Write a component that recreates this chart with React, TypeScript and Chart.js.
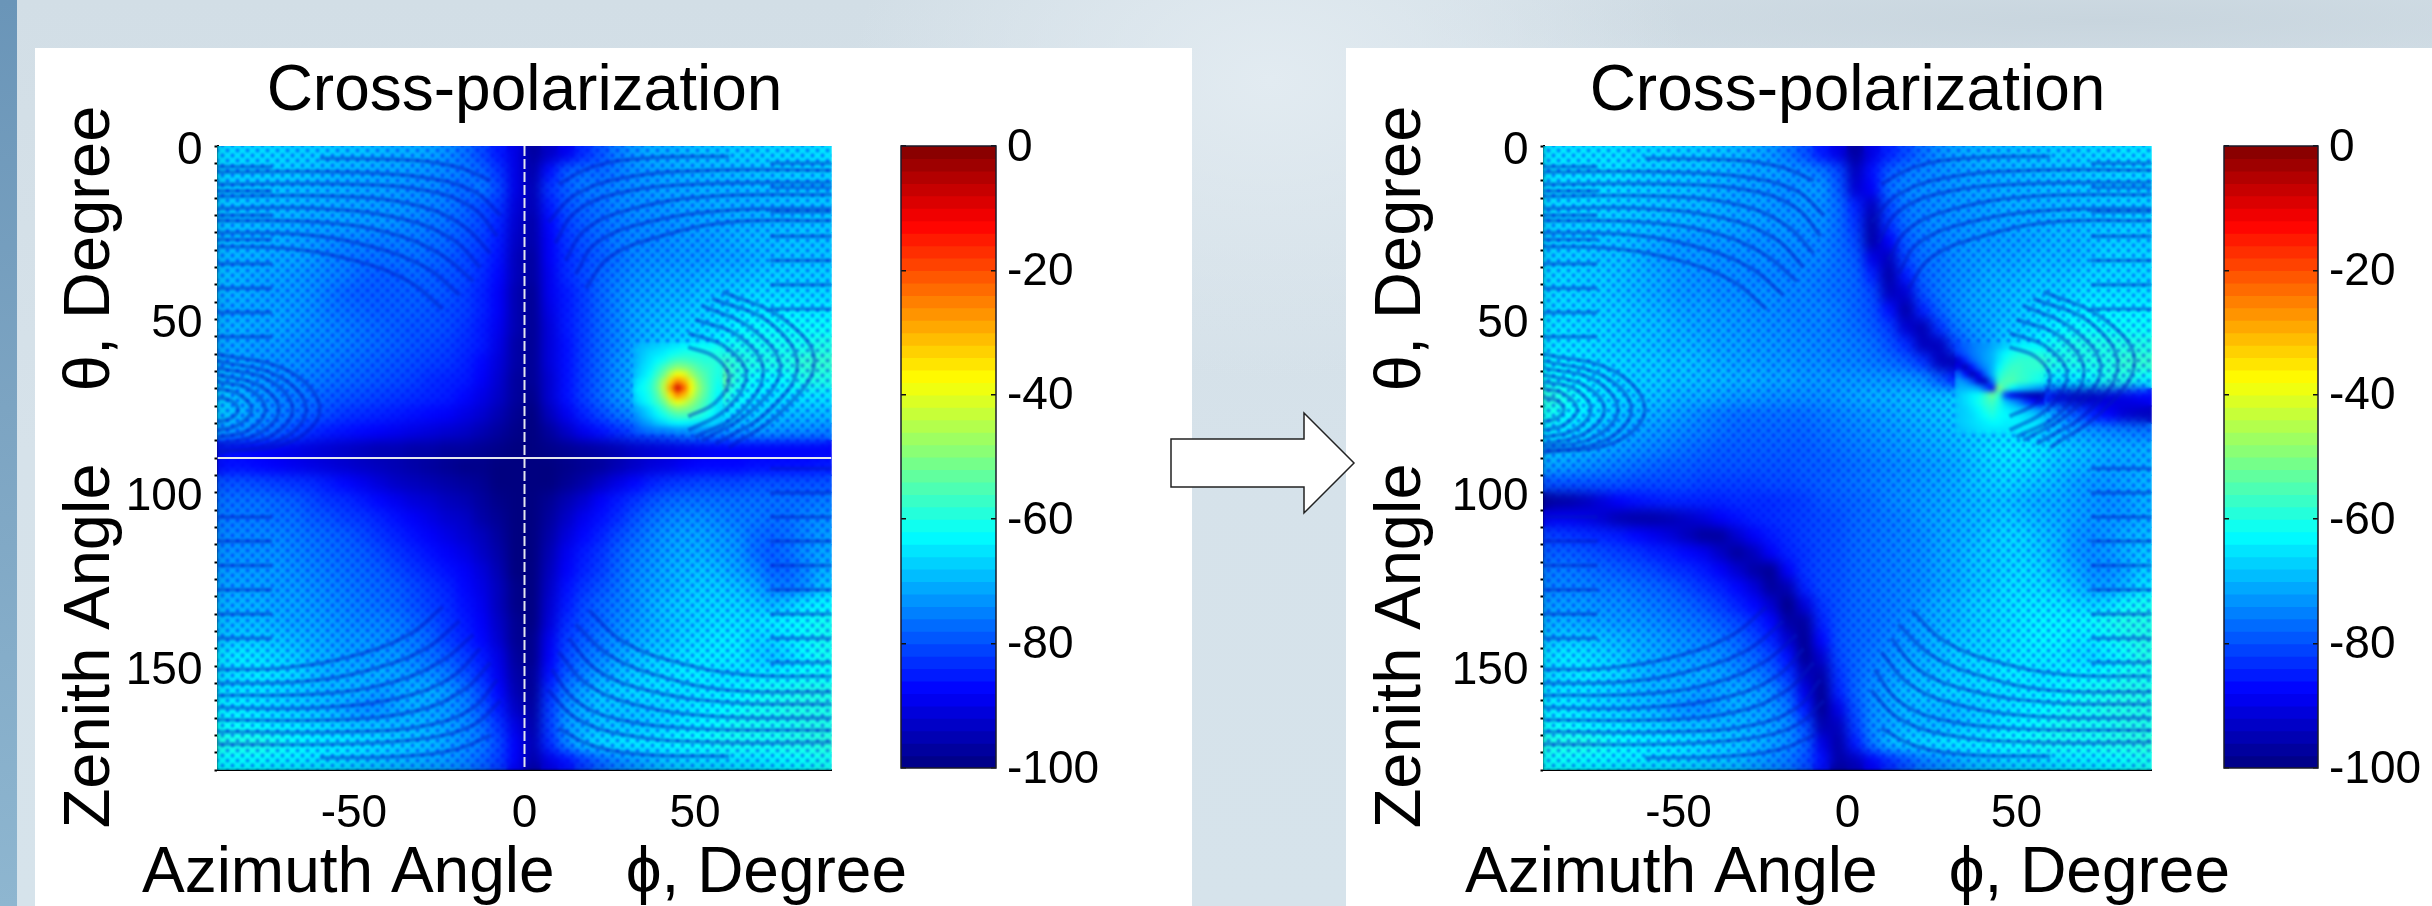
import React, { useEffect, useRef } from "react";
import { Chart, registerables } from "chart.js";

Chart.register(...registerables);

const FONT = "'Liberation Sans', Arial, sans-serif";

const titleText = "Cross-polarization";
const xTitleText = "Azimuth Angle    \u03D5, Degree";
const yTitleText = "Zenith Angle    \u03B8, Degree ";

const xTickValues = [-50, 0, 50];
const yTickValues = [0, 50, 100, 150];
const yMinorValues = [0, 5, 10, 15, 20, 25, 30, 35, 40, 45, 50, 55, 60, 65, 70, 75, 80, 85, 90, 95, 100, 105, 110, 115, 120, 125, 130, 135, 140, 145, 150, 155, 160, 165, 170, 175, 180];
const barTickValues = [-100, -80, -60, -40, -20, 0];

const phiCenters = [-87.5, -82.5, -77.5, -72.5, -67.5, -62.5, -57.5, -52.5, -47.5, -42.5, -37.5, -32.5, -27.5, -22.5, -17.5, -12.5, -7.5, -2.5, 2.5, 7.5, 12.5, 17.5, 22.5, 27.5, 32.5, 37.5, 42.5, 47.5, 52.5, 57.5, 62.5, 67.5, 72.5, 77.5, 82.5, 87.5];
const thetaCenters = [2.5, 7.5, 12.5, 17.5, 22.5, 27.5, 32.5, 37.5, 42.5, 47.5, 52.5, 57.5, 62.5, 67.5, 72.5, 77.5, 82.5, 87.5, 92.5, 97.5, 102.5, 107.5, 112.5, 117.5, 122.5, 127.5, 132.5, 137.5, 142.5, 147.5, 152.5, 157.5, 162.5, 167.5, 172.5, 177.5];
const peakPhi = [33, 35, 37, 39, 41, 43, 45, 47, 49, 51, 53, 55, 57];
const peakTheta = [58, 60, 62, 64, 66, 68, 70, 72, 74, 76, 78, 80, 82];

const beforeRows = [
[-66,-66,-66,-66,-67,-67,-67,-68,-68,-69,-70,-70,-71,-73,-76,-80,-85,-90,-97,-93,-89,-83,-79,-75,-72,-70,-70,-69,-68,-68,-67,-67,-66,-66,-66,-65],
[-67,-67,-67,-67,-67,-68,-69,-70,-70,-71,-71,-72,-73,-74,-75,-77,-82,-90,-96,-86,-78,-76,-77,-75,-73,-72,-71,-70,-70,-69,-69,-68,-68,-67,-67,-67],
[-68,-68,-68,-68,-69,-69,-70,-70,-71,-71,-72,-73,-73,-75,-77,-75,-80,-90,-95,-82,-78,-75,-75,-74,-73,-72,-71,-71,-70,-70,-70,-69,-69,-68,-68,-68],
[-68,-68,-69,-69,-69,-70,-70,-71,-71,-72,-72,-73,-74,-75,-77,-80,-82,-91,-95,-85,-79,-77,-76,-74,-73,-73,-72,-71,-71,-70,-70,-70,-69,-69,-68,-68],
[-69,-69,-69,-70,-70,-71,-71,-71,-72,-72,-73,-74,-75,-76,-78,-80,-84,-92,-96,-87,-81,-78,-76,-75,-74,-73,-73,-72,-71,-71,-70,-70,-69,-69,-68,-68],
[-69,-69,-70,-70,-71,-72,-73,-74,-74,-75,-75,-75,-76,-77,-79,-81,-85,-93,-96,-88,-82,-79,-77,-75,-74,-74,-73,-72,-72,-71,-70,-69,-69,-68,-68,-68],
[-70,-70,-70,-71,-71,-72,-74,-75,-76,-76,-76,-76,-77,-78,-80,-82,-86,-94,-97,-88,-83,-80,-78,-76,-74,-73,-73,-72,-72,-71,-71,-70,-69,-68,-68,-68],
[-69,-70,-71,-71,-72,-73,-74,-75,-77,-78,-78,-77,-78,-79,-80,-83,-87,-94,-97,-89,-83,-80,-77,-75,-73,-72,-71,-71,-70,-69,-69,-68,-67,-67,-67,-67],
[-70,-70,-71,-72,-72,-73,-75,-77,-78,-78,-78,-78,-78,-79,-81,-84,-88,-95,-98,-89,-85,-81,-77,-74,-72,-71,-70,-70,-68,-68,-67,-66,-66,-66,-66,-66],
[-71,-71,-71,-71,-72,-73,-75,-76,-77,-78,-78,-78,-79,-80,-81,-84,-88,-95,-98,-90,-85,-81,-77,-74,-71,-70,-69,-68,-67,-66,-65,-64,-64,-63,-64,-64],
[-70,-70,-71,-71,-72,-73,-74,-75,-76,-77,-78,-79,-79,-80,-82,-85,-89,-95,-98,-91,-85,-81,-77,-74,-71,-69,-68,-67,-66,-65,-63,-62,-62,-62,-62,-62],
[-71,-71,-72,-72,-73,-74,-74,-75,-76,-77,-78,-79,-80,-81,-83,-85,-90,-96,-98,-91,-86,-81,-77,-74,-71,-69,-67,-66,-64,-63,-61,-61,-61,-61,-61,-60],
[-71,-71,-72,-73,-73,-74,-75,-76,-77,-78,-79,-80,-81,-82,-84,-87,-91,-96,-98,-91,-86,-81,-77,-73,-70,-68,-65,-60,-57,-57,-59,-60,-60,-60,-58,-58],
[-70,-71,-72,-73,-74,-75,-76,-77,-78,-79,-80,-81,-83,-84,-85,-88,-92,-97,-98,-92,-86,-81,-77,-73,-70,-67,-62,-56,-48,-52,-60,-62,-63,-62,-60,-60],
[-68,-70,-72,-74,-75,-76,-78,-79,-80,-81,-82,-83,-84,-85,-87,-90,-93,-97,-99,-92,-86,-81,-77,-73,-70,-67,-63,-58,-54,-58,-62,-64,-65,-65,-65,-65],
[-68,-70,-72,-74,-76,-78,-80,-82,-83,-84,-85,-86,-87,-88,-90,-92,-95,-98,-100,-94,-89,-84,-80,-76,-73,-70,-67,-64,-63,-64,-66,-67,-68,-69,-69,-69],
[-72,-73,-75,-77,-80,-83,-85,-86,-87,-88,-89,-90,-91,-92,-93,-95,-97,-99,-100,-97,-93,-89,-86,-83,-80,-78,-76,-73,-72,-72,-72,-72,-72,-73,-73,-74],
[-86,-87,-88,-89,-90,-91,-92,-93,-94,-95,-95,-96,-96,-97,-97,-98,-99,-100,-100,-99,-98,-97,-96,-95,-93,-92,-91,-90,-89,-88,-88,-88,-88,-88,-88,-88],
[-86,-86,-87,-88,-89,-90,-91,-92,-93,-94,-95,-96,-97,-98,-99,-99,-100,-100,-100,-100,-99,-98,-97,-95,-93,-91,-90,-88,-87,-87,-87,-86,-86,-86,-86,-85],
[-79,-79,-80,-81,-82,-83,-85,-87,-89,-91,-93,-94,-95,-96,-97,-98,-100,-100,-100,-100,-98,-96,-93,-90,-87,-84,-82,-81,-80,-80,-80,-79,-79,-79,-79,-79],
[-76,-76,-76,-77,-78,-80,-82,-83,-85,-87,-89,-91,-92,-94,-95,-97,-99,-100,-100,-98,-95,-92,-88,-85,-82,-79,-77,-76,-76,-76,-76,-76,-76,-76,-76,-75],
[-75,-75,-75,-76,-76,-78,-79,-81,-82,-84,-86,-88,-90,-92,-93,-96,-98,-100,-100,-97,-93,-89,-86,-83,-79,-76,-74,-73,-73,-74,-75,-75,-76,-76,-74,-73],
[-74,-74,-74,-74,-75,-76,-77,-78,-80,-82,-84,-86,-88,-90,-92,-94,-97,-100,-100,-96,-91,-87,-84,-80,-77,-74,-72,-71,-71,-72,-73,-76,-77,-76,-74,-72],
[-73,-73,-73,-73,-74,-75,-76,-77,-78,-80,-82,-84,-86,-88,-90,-93,-96,-100,-100,-95,-89,-85,-82,-78,-75,-73,-71,-70,-70,-71,-72,-76,-78,-76,-73,-71],
[-72,-72,-72,-72,-73,-74,-75,-76,-77,-78,-80,-82,-84,-86,-88,-91,-95,-100,-100,-94,-88,-84,-81,-77,-74,-72,-70,-69,-68,-69,-71,-73,-77,-77,-74,-70],
[-71,-71,-71,-72,-72,-73,-74,-75,-76,-77,-78,-80,-82,-84,-87,-90,-94,-99,-100,-93,-86,-82,-79,-76,-73,-71,-70,-68,-67,-67,-68,-70,-74,-75,-73,-68],
[-70,-70,-70,-71,-71,-72,-73,-74,-75,-76,-77,-79,-81,-83,-86,-89,-94,-99,-100,-92,-85,-80,-77,-75,-73,-70,-68,-67,-66,-66,-66,-67,-69,-67,-64,-63],
[-69,-69,-69,-70,-71,-71,-72,-73,-74,-74,-75,-77,-79,-82,-85,-88,-93,-98,-100,-91,-83,-79,-77,-74,-72,-70,-68,-67,-66,-65,-65,-65,-64,-63,-62,-61],
[-68,-67,-67,-68,-69,-70,-71,-72,-72,-73,-74,-75,-77,-81,-84,-87,-92,-98,-99,-89,-81,-78,-75,-73,-71,-69,-68,-66,-65,-64,-64,-66,-66,-64,-62,-61],
[-65,-64,-65,-66,-67,-69,-70,-71,-72,-72,-72,-74,-76,-78,-81,-85,-90,-97,-99,-88,-80,-76,-74,-71,-69,-67,-66,-65,-64,-64,-64,-66,-68,-66,-63,-61],
[-66,-65,-64,-65,-66,-68,-70,-70,-70,-70,-71,-72,-73,-75,-79,-83,-89,-96,-98,-86,-78,-74,-71,-69,-67,-66,-65,-64,-64,-65,-65,-64,-64,-63,-62,-62],
[-65,-65,-65,-66,-67,-68,-69,-69,-70,-72,-71,-70,-70,-72,-75,-80,-87,-95,-98,-83,-75,-71,-68,-67,-66,-65,-65,-65,-64,-64,-63,-62,-61,-61,-60,-60],
[-64,-64,-65,-66,-67,-68,-69,-71,-73,-73,-71,-70,-71,-72,-74,-78,-85,-93,-97,-81,-73,-70,-68,-68,-68,-67,-66,-65,-64,-63,-62,-61,-61,-60,-60,-60],
[-62,-62,-63,-64,-64,-65,-66,-67,-68,-68,-69,-69,-70,-71,-73,-76,-82,-90,-96,-81,-72,-70,-68,-68,-68,-67,-66,-64,-63,-62,-61,-61,-61,-61,-60,-60],
[-60,-60,-60,-61,-62,-63,-64,-64,-65,-66,-67,-68,-69,-71,-73,-75,-80,-88,-95,-83,-74,-68,-66,-65,-64,-64,-63,-62,-62,-61,-61,-61,-61,-60,-60,-59],
[-63,-63,-63,-64,-64,-65,-65,-66,-67,-68,-69,-70,-71,-72,-74,-77,-81,-88,-96,-90,-86,-81,-77,-74,-72,-70,-68,-67,-66,-66,-65,-65,-64,-63,-62,-61],
];

const afterRows = [
[-65,-65,-65,-65,-65,-66,-66,-66,-67,-67,-68,-69,-70,-72,-75,-79,-85,-90,-97,-90,-84,-80,-76,-73,-71,-70,-69,-69,-68,-68,-67,-67,-66,-66,-65,-65],
[-65,-65,-65,-65,-65,-66,-67,-67,-68,-68,-69,-70,-71,-71,-72,-73,-75,-80,-94,-86,-78,-75,-74,-73,-72,-71,-70,-70,-69,-69,-68,-68,-67,-67,-66,-66],
[-66,-66,-66,-66,-66,-67,-67,-68,-68,-69,-70,-71,-71,-72,-73,-72,-72,-78,-92,-88,-76,-74,-73,-73,-72,-71,-71,-70,-70,-69,-69,-68,-68,-67,-67,-67],
[-66,-66,-66,-66,-67,-67,-68,-68,-69,-69,-70,-71,-71,-72,-73,-72,-73,-76,-84,-94,-80,-75,-74,-73,-72,-72,-71,-70,-70,-70,-69,-69,-68,-68,-67,-67],
[-67,-67,-67,-67,-67,-68,-68,-69,-69,-70,-70,-71,-71,-72,-72,-73,-73,-76,-82,-96,-82,-76,-74,-73,-73,-72,-71,-71,-70,-70,-69,-69,-68,-68,-67,-67],
[-67,-67,-67,-68,-68,-69,-70,-71,-72,-72,-72,-72,-73,-73,-73,-73,-74,-76,-80,-96,-88,-78,-75,-74,-73,-72,-72,-71,-71,-70,-69,-69,-68,-67,-67,-67],
[-67,-67,-67,-68,-68,-69,-71,-72,-72,-72,-73,-73,-73,-73,-74,-74,-74,-76,-78,-90,-94,-80,-76,-75,-73,-72,-71,-71,-70,-69,-69,-69,-68,-66,-66,-66],
[-66,-66,-67,-67,-68,-69,-70,-71,-72,-73,-73,-73,-74,-74,-74,-74,-75,-76,-77,-84,-96,-85,-77,-75,-73,-72,-70,-70,-69,-68,-68,-67,-66,-66,-66,-66],
[-66,-66,-67,-67,-68,-69,-70,-71,-72,-72,-73,-73,-73,-73,-74,-74,-75,-76,-77,-80,-94,-92,-79,-75,-73,-71,-70,-69,-68,-67,-67,-66,-65,-65,-65,-65],
[-66,-66,-66,-67,-67,-68,-69,-70,-71,-71,-72,-72,-73,-73,-74,-74,-74,-75,-77,-79,-86,-96,-84,-77,-73,-71,-70,-69,-67,-66,-65,-64,-63,-63,-63,-63],
[-65,-65,-66,-66,-67,-68,-68,-69,-70,-71,-71,-72,-72,-73,-73,-74,-74,-75,-76,-78,-81,-92,-95,-82,-75,-72,-70,-68,-67,-65,-63,-62,-62,-62,-62,-62],
[-65,-65,-65,-66,-67,-67,-68,-69,-69,-70,-71,-71,-72,-72,-73,-73,-74,-74,-75,-76,-79,-83,-94,-94,-80,-74,-71,-67,-64,-63,-61,-60,-60,-60,-60,-60],
[-63,-64,-65,-66,-66,-67,-67,-68,-68,-69,-70,-71,-71,-72,-72,-73,-73,-74,-74,-75,-76,-78,-82,-94,-95,-86,-72,-62,-58,-58,-60,-60,-60,-60,-58,-58],
[-62,-63,-64,-65,-66,-67,-67,-68,-68,-69,-69,-70,-70,-71,-71,-72,-72,-72,-72,-72,-72,-72,-73,-78,-85,-94,-80,-58,-58,-62,-64,-63,-62,-60,-60,-62],
[-59,-61,-63,-65,-66,-67,-68,-69,-70,-70,-71,-72,-72,-73,-73,-73,-73,-72,-71,-70,-70,-69,-69,-68,-67,-64,-62,-60,-72,-85,-92,-94,-94,-92,-90,-88],
[-61,-63,-64,-66,-68,-69,-70,-71,-72,-74,-75,-76,-76,-76,-76,-76,-75,-74,-73,-72,-71,-70,-69,-68,-67,-65,-63,-62,-64,-67,-72,-78,-84,-88,-92,-94],
[-65,-66,-67,-69,-70,-71,-72,-73,-74,-75,-76,-77,-77,-77,-77,-77,-76,-75,-74,-73,-72,-71,-70,-69,-68,-67,-66,-65,-66,-68,-69,-71,-72,-73,-74,-75],
[-68,-69,-70,-71,-72,-73,-74,-75,-76,-77,-78,-78,-78,-78,-78,-78,-77,-76,-75,-74,-73,-72,-71,-70,-69,-67,-65,-64,-64,-65,-67,-68,-69,-70,-70,-70],
[-71,-72,-73,-74,-75,-76,-77,-78,-78,-79,-79,-79,-79,-79,-79,-78,-78,-77,-76,-75,-74,-73,-72,-71,-70,-68,-66,-65,-65,-66,-68,-69,-70,-71,-71,-70],
[-79,-79,-79,-79,-79,-80,-80,-80,-80,-81,-81,-81,-81,-80,-80,-79,-78,-77,-76,-75,-74,-73,-72,-71,-70,-68,-67,-66,-67,-68,-69,-71,-72,-72,-71,-70],
[-97,-96,-94,-91,-88,-86,-85,-84,-84,-84,-84,-83,-83,-83,-82,-81,-79,-78,-77,-76,-74,-73,-72,-71,-70,-69,-68,-68,-69,-70,-70,-71,-72,-73,-72,-70],
[-89,-89,-90,-92,-95,-96,-96,-95,-93,-91,-88,-86,-84,-83,-82,-81,-80,-79,-77,-76,-75,-74,-72,-71,-70,-69,-68,-67,-68,-69,-70,-71,-72,-72,-72,-70],
[-81,-82,-83,-84,-85,-87,-89,-91,-94,-97,-97,-92,-88,-85,-83,-81,-80,-79,-77,-76,-75,-74,-73,-71,-70,-69,-67,-66,-66,-68,-69,-72,-73,-72,-70,-69],
[-78,-78,-79,-80,-81,-82,-84,-85,-87,-89,-93,-97,-94,-88,-84,-82,-80,-79,-77,-76,-75,-74,-73,-71,-70,-68,-67,-66,-66,-67,-69,-72,-73,-72,-70,-68],
[-75,-75,-76,-77,-78,-79,-80,-82,-83,-85,-88,-92,-96,-98,-88,-82,-80,-79,-77,-76,-75,-74,-73,-71,-70,-68,-67,-66,-65,-66,-68,-70,-73,-73,-71,-67],
[-74,-74,-74,-75,-75,-76,-77,-78,-80,-82,-84,-87,-91,-97,-95,-84,-80,-79,-77,-76,-75,-74,-73,-71,-70,-68,-67,-65,-65,-65,-66,-68,-71,-71,-69,-65],
[-72,-72,-72,-73,-73,-74,-75,-76,-77,-79,-81,-84,-87,-92,-99,-91,-82,-79,-77,-76,-75,-74,-72,-70,-69,-67,-66,-65,-64,-64,-64,-65,-66,-65,-62,-61],
[-70,-70,-71,-71,-72,-72,-73,-74,-75,-76,-78,-80,-83,-87,-96,-97,-84,-79,-77,-76,-75,-73,-71,-70,-69,-67,-66,-65,-64,-63,-63,-63,-62,-61,-60,-60],
[-68,-67,-67,-68,-69,-70,-71,-72,-73,-74,-75,-77,-80,-84,-92,-98,-87,-79,-77,-76,-74,-72,-71,-69,-68,-67,-66,-65,-64,-63,-63,-64,-64,-62,-61,-60],
[-65,-64,-65,-66,-67,-69,-70,-71,-72,-72,-73,-75,-77,-80,-86,-98,-92,-80,-77,-75,-73,-71,-70,-69,-67,-66,-66,-65,-64,-64,-64,-65,-66,-64,-62,-60],
[-66,-65,-64,-65,-66,-68,-70,-70,-70,-70,-71,-73,-74,-77,-82,-94,-96,-82,-77,-74,-72,-70,-69,-68,-67,-66,-65,-64,-64,-65,-64,-63,-63,-62,-61,-61],
[-65,-65,-65,-66,-67,-68,-69,-69,-70,-72,-71,-70,-71,-73,-78,-90,-98,-84,-77,-73,-71,-69,-68,-67,-66,-66,-65,-65,-64,-64,-63,-62,-61,-61,-60,-60],
[-64,-64,-65,-66,-67,-68,-69,-71,-73,-73,-71,-70,-71,-72,-75,-85,-98,-90,-79,-73,-71,-69,-69,-69,-69,-67,-66,-65,-64,-63,-62,-61,-61,-60,-60,-60],
[-62,-62,-63,-64,-64,-65,-66,-67,-68,-68,-69,-69,-70,-71,-73,-79,-95,-94,-81,-73,-71,-69,-69,-69,-68,-67,-66,-64,-63,-62,-61,-61,-61,-61,-60,-60],
[-60,-60,-60,-61,-62,-63,-64,-64,-65,-66,-67,-68,-69,-71,-73,-77,-90,-96,-85,-75,-69,-67,-66,-65,-64,-64,-63,-62,-62,-61,-61,-61,-61,-60,-60,-59],
[-62,-62,-63,-63,-64,-64,-65,-65,-66,-67,-68,-69,-71,-73,-75,-79,-86,-96,-94,-88,-83,-79,-75,-73,-71,-69,-68,-67,-66,-66,-65,-64,-64,-63,-62,-61],
];

const beforePeakRows = [
[-70,-69,-68,-67,-66,-65,-64,-63,-63,-62,-62,-62,-61],
[-70,-68,-66,-65,-64,-62,-61,-60,-60,-60,-60,-60,-60],
[-70,-67,-65,-63,-61,-58,-56,-56,-57,-58,-59,-59,-59],
[-69,-66,-64,-60,-56,-52,-49,-50,-52,-55,-57,-58,-60],
[-68,-65,-62,-57,-52,-44,-38,-40,-47,-52,-55,-58,-60],
[-66,-63,-60,-54,-46,-34,-26,-30,-40,-49,-54,-58,-61],
[-64,-62,-59,-53,-44,-28,-8,-22,-38,-47,-53,-58,-62],
[-65,-63,-60,-55,-47,-35,-26,-31,-41,-49,-54,-59,-63],
[-67,-64,-61,-57,-52,-44,-39,-42,-47,-52,-56,-60,-64],
[-71,-68,-65,-61,-57,-52,-49,-50,-52,-55,-58,-61,-65],
[-73,-70,-67,-64,-61,-58,-56,-56,-57,-59,-61,-63,-66],
[-76,-73,-71,-68,-66,-64,-63,-63,-64,-65,-66,-66,-68],
[-79,-77,-76,-75,-75,-74,-73,-73,-73,-73,-73,-73,-74],
];

const afterPeakRows = [
[-80,-78,-76,-74,-73,-71,-69,-67,-65,-64,-63,-63,-63],
[-82,-79,-76,-74,-72,-70,-66,-63,-61,-60,-60,-60,-60],
[-92,-84,-78,-75,-72,-70,-65,-61,-59,-58,-58,-58,-58],
[-90,-95,-86,-78,-74,-70,-63,-59,-57,-57,-58,-58,-58],
[-76,-86,-95,-90,-78,-70,-60,-57,-56,-57,-58,-59,-60],
[-72,-74,-80,-92,-94,-76,-58,-55,-55,-57,-58,-60,-61],
[-70,-70,-70,-72,-80,-88,-50,-57,-62,-66,-68,-70,-72],
[-68,-66,-64,-62,-58,-52,-58,-82,-90,-92,-94,-95,-95],
[-68,-66,-64,-61,-58,-56,-60,-68,-72,-76,-82,-86,-90],
[-68,-67,-65,-63,-60,-58,-61,-64,-66,-68,-70,-72,-75],
[-68,-67,-66,-64,-62,-60,-62,-63,-64,-65,-66,-67,-68],
[-68,-67,-66,-65,-64,-63,-63,-64,-64,-64,-65,-65,-66],
[-69,-68,-67,-66,-65,-65,-65,-65,-65,-65,-65,-65,-66],
];

// dark interference fringes, read as phi/theta polylines
const fringesLowerLeft = [
  [[-60, 176.5], [-35, 176], [-20, 174], [-10, 170]],
  [[-90, 172.5], [-55, 172.5], [-30, 171], [-15, 167], [-7, 160]],
  [[-90, 169], [-50, 169], [-28, 167], [-15, 162], [-8, 154]],
  [[-90, 165.5], [-55, 165.5], [-32, 163], [-18, 157], [-10, 149]],
  [[-90, 162], [-60, 162], [-36, 159], [-21, 153], [-13, 145]],
  [[-90, 158.5], [-60, 158], [-40, 155], [-25, 149], [-15, 141]],
  [[-90, 155], [-65, 154.5], [-45, 151], [-29, 145], [-19, 137]],
  [[-90, 151], [-70, 150.5], [-50, 147], [-34, 141], [-24, 133]],
];
const fringesLowerRight = [
  [[60, 176], [35, 175.5], [20, 173], [10, 168]],
  [[90, 172], [55, 172], [30, 170], [15, 165], [7, 157]],
  [[90, 168.5], [50, 168], [28, 165.5], [15, 160], [8, 151]],
  [[90, 165], [55, 164.5], [32, 161], [18, 155], [10, 146]],
  [[90, 161], [60, 160.5], [36, 157], [21, 151], [13, 142]],
  [[90, 157.5], [60, 157], [40, 153], [25, 147], [15, 138]],
  [[90, 153], [65, 152.5], [45, 149], [29, 143], [19, 134]],
];
const fringesUpperLeft = [
  [[-60, 3.5], [-35, 4], [-20, 6], [-10, 10]],
  [[-90, 7.5], [-55, 7.5], [-30, 9], [-15, 13], [-7, 20]],
  [[-90, 11], [-50, 11], [-28, 13], [-15, 18], [-8, 26]],
  [[-90, 14.5], [-55, 14.5], [-32, 17], [-18, 23], [-10, 31]],
  [[-90, 18], [-60, 18], [-36, 21], [-21, 27], [-13, 35]],
  [[-90, 21.5], [-60, 22], [-40, 25], [-25, 31], [-15, 39]],
  [[-90, 25], [-65, 25.5], [-45, 29], [-29, 35], [-19, 43]],
  [[-90, 29], [-70, 29.5], [-50, 33], [-34, 39], [-24, 47]],
];
const fringesUpperRight = [
  [[60, 3], [35, 3.5], [20, 6], [10, 11]],
  [[90, 7], [55, 7], [30, 9], [15, 14], [7, 22]],
  [[90, 10.5], [50, 11], [28, 13.5], [15, 19], [9, 28]],
  [[90, 14], [55, 14.5], [32, 18], [18, 24], [12, 33]],
  [[90, 18], [60, 18.5], [36, 22], [21, 28], [15, 37]],
  [[90, 21.5], [60, 22], [40, 26], [25, 32], [18, 41]],
];
const fringesLeftRings = [
  [[-90, 72.5], [-86, 73.5], [-84, 76], [-86, 78.5], [-90, 79.5]],
  [[-90, 70], [-84, 71.5], [-80, 76], [-84, 80.5], [-90, 82]],
  [[-90, 68], [-81, 70], [-76, 76], [-81, 82], [-90, 84]],
  [[-90, 66], [-78, 69], [-72, 76], [-78, 83], [-90, 86]],
  [[-90, 64], [-75, 67.5], [-68, 76], [-75, 84], [-90, 87]],
  [[-90, 62], [-72, 66.5], [-64, 76], [-72, 85], [-90, 88]],
  [[-90, 60], [-69, 65], [-60, 76], [-69, 85.5], [-90, 88.5]],
];
const fringesPeakRings = [
  [[48, 58], [56, 61], [60, 67], [56, 74], [48, 78]],
  [[48, 54], [59, 58], [65, 66], [59, 76], [48, 82]],
  [[50, 50], [63, 55], [70, 65], [63, 77], [50, 84]],
  [[52, 46], [67, 53], [75, 64], [67, 76], [52, 85]],
  [[55, 44], [72, 51], [80, 63], [72, 76], [56, 86]],
  [[58, 42], [76, 50], [85, 62], [76, 76], [60, 87]],
];
const streakThetaLeft = [6, 13, 20, 27, 34, 41, 48, 55, 107, 114, 121, 128, 135, 142];
const streakThetaRight = [5, 12, 19, 26, 33, 40, 47, 93, 100, 107, 114, 121, 128, 135, 142, 149];

const nullPlaneTheta = [[-90, 90], [90, 90]];
const nullPlanePhi = [[0, 0], [0, 180]];
const plotCorners = [[-90, 0], [90, 180]];
const colorLevels = [-99, -97, -95, -93, -91, -89, -87, -85, -83, -81, -79, -77, -75, -73, -71, -69, -67, -65, -63, -61, -59, -57, -55, -53, -51, -49, -47, -45, -43, -41, -39, -37, -35, -33, -31, -29, -27, -25, -23, -21, -19, -17, -15, -13, -11, -9, -7, -5, -3, -1];

function jet(v: number) {
  const t = Math.min(1, Math.max(0, (v + 100) / 100));
  const ch = (x: number) => Math.round(255 * Math.min(1, Math.max(0, 1.5 - Math.abs(4 * t - x))));
  return `rgb(${ch(3)},${ch(2)},${ch(1)})`;
}

function toCells(rows: number[][], xs: number[], ys: number[]) {
  const out: { x: number; y: number; v: number }[] = [];
  rows.forEach((r, j) => r.forEach((v, i) => out.push({ x: xs[i], y: ys[j], v })));
  return out;
}

function cellDataset(data: any[], cellDeg: number, blurPx: number, mottled: boolean) {
  return {
    type: "scatter",
    data,
    cellDeg,
    blurPx,
    mottled,
    clip: 0,
    pointStyle: "rect",
    pointBorderWidth: 0,
    pointBackgroundColor: (c: any) => jet(c.raw ? c.raw.v : -100),
    pointRadius: (c: any) => {
      const { x, y } = c.chart.scales;
      const w = Math.abs(x.getPixelForValue(cellDeg) - x.getPixelForValue(0));
      const h = Math.abs(y.getPixelForValue(cellDeg) - y.getPixelForValue(0));
      return (Math.max(w, h) / 2 + 0.6) * Math.SQRT2;
    },
  };
}

function fringeDataset(pts: number[][]) {
  return {
    type: "scatter",
    showLine: true,
    data: pts.map(([x, y]) => ({ x, y })),
    borderColor: "rgba(0,25,190,0.42)",
    borderWidth: 4,
    tension: 0.4,
    pointRadius: 0,
    clip: 0,
  };
}

function dotTexture() {
  const c = document.createElement("canvas");
  c.width = 10;
  c.height = 10;
  const g = c.getContext("2d") as CanvasRenderingContext2D;
  g.fillStyle = "#fff";
  g.fillRect(0, 0, 10, 10);
  g.fillStyle = "rgb(170,140,255)";
  g.beginPath();
  g.arc(2.5, 2.5, 2, 0, Math.PI * 2);
  g.arc(7.5, 7.5, 2, 0, Math.PI * 2);
  g.fill();
  return c;
}

const softenCells = {
  id: "softenCells",
  afterDatasetDraw(chart: any, args: any) {
    const ds = chart.data.datasets[args.index];
    if (!ds.blurPx) return;
    const { x, y } = chart.scales;
    const half = (ds.cellDeg || 0) / 2;
    const xv = ds.data.map((d: any) => d.x);
    const yv = ds.data.map((d: any) => d.y);
    const l = x.getPixelForValue(Math.min(...xv) - half);
    const r = x.getPixelForValue(Math.max(...xv) + half);
    const t = y.getPixelForValue(Math.min(...yv) - half);
    const b = y.getPixelForValue(Math.max(...yv) + half);
    const ctx = chart.ctx;
    ctx.save();
    ctx.beginPath();
    ctx.rect(l, t, r - l, b - t);
    ctx.clip();
    ctx.filter = `blur(${ds.blurPx}px)`;
    ctx.drawImage(chart.canvas, 0, 0);
    ctx.filter = "none";
    if (ds.mottled) {
      ctx.globalCompositeOperation = "multiply";
      ctx.fillStyle = ctx.createPattern(dotTexture(), "repeat");
      ctx.fillRect(l, t, r - l, b - t);
    }
    ctx.restore();
  },
};

const frame = {
  id: "frame",
  afterDraw(chart: any) {
    const { left, top, width, height } = chart.chartArea;
    const ctx = chart.ctx;
    ctx.save();
    ctx.strokeStyle = "#1a1a2a";
    ctx.lineWidth = 1.5;
    ctx.strokeRect(left, top, width, height);
    ctx.restore();
  },
};

function HeatPanel({ left, pad, plotW, rows, peakRows, showNulls }: any) {
  const ref = useRef<HTMLCanvasElement>(null);
  const width = 2 * pad + plotW;
  useEffect(() => {
    const lineSet = (pts: number[][], dash: number[]) => ({
      type: "scatter",
      showLine: true,
      data: pts.map(([x, y]) => ({ x, y })),
      borderColor: "#e4e6ee",
      borderWidth: 2,
      borderDash: dash,
      pointRadius: 0,
      clip: 0,
    });
    const datasets: any[] = [];
    if (showNulls) datasets.push(lineSet(nullPlaneTheta, []), lineSet(nullPlanePhi, [10, 3]));
    datasets.push({
      type: "scatter",
      data: plotCorners.map(([x, y]) => ({ x, y })),
      pointRadius: 0,
      blurPx: 1.2,
      cellDeg: 0,
    });
    const fringes = [
      ...fringesLowerLeft,
      ...fringesLowerRight,
      ...fringesUpperLeft,
      ...fringesUpperRight,
      ...fringesLeftRings,
      ...fringesPeakRings,
      ...streakThetaLeft.map((t) => [[-90, t], [-74, t]]),
      ...streakThetaRight.map((t) => [[90, t], [72, t]]),
    ];
    fringes.forEach((f) => datasets.push(fringeDataset(f)));
    datasets.push(cellDataset(toCells(peakRows, peakPhi, peakTheta), 2, 2.5, false));
    datasets.push(cellDataset(toCells(rows, phiCenters, thetaCenters), 5, 6, true));
    const chart = new Chart(ref.current as any, {
      type: "scatter",
      data: { datasets },
      plugins: [softenCells],
      options: {
        responsive: false,
        animation: false,
        events: [],
        layout: { autoPadding: false, padding: 0 },
        plugins: {
          legend: { display: false },
          tooltip: { enabled: false },
          title: {
            display: true,
            text: titleText,
            color: "#000",
            font: { family: FONT, size: 64, weight: "normal", lineHeight: 1 },
            padding: { top: 12, bottom: 22 },
          },
          subtitle: {
            display: true,
            position: "bottom",
            text: xTitleText,
            color: "#000",
            font: { family: FONT, size: 64, weight: "normal", lineHeight: 1 },
            padding: { top: 0, bottom: 0 },
          },
        },
        scales: {
          x: {
            type: "linear",
            position: "bottom",
            min: -90,
            max: 90,
            afterFit: (s: any) => { s.height = 72; },
            afterBuildTicks: (s: any) => { s.ticks = xTickValues.map((value) => ({ value })); },
            grid: { display: false },
            border: { display: true, color: "#000", width: 2 },
            ticks: {
              padding: 9,
              maxRotation: 0,
              autoSkip: false,
              color: "#000",
              font: { family: FONT, size: 46 },
              callback: (v: any) => String(v),
            },
          },
          y: {
            type: "linear",
            position: "left",
            reverse: true,
            min: 0,
            max: 180,
            afterFit: (s: any) => { s.width = pad; },
            afterBuildTicks: (s: any) => { s.ticks = yMinorValues.map((value) => ({ value })); },
            grid: { display: true, drawOnChartArea: false, drawTicks: true, tickLength: 3, tickColor: "#000", tickWidth: 2 },
            border: { display: true, color: "#000", width: 2 },
            title: {
              display: true,
              text: yTitleText,
              color: "#000",
              font: { family: FONT, size: 65, weight: "normal", lineHeight: 1 },
              padding: { top: 24, bottom: 0 },
            },
            ticks: {
              padding: 12,
              labelOffset: 5,
              autoSkip: false,
              color: "#000",
              font: { family: FONT, size: 46 },
              callback: (v: any) => (yTickValues.includes(v) ? String(v) : ""),
            },
          },
          balance: {
            type: "linear",
            position: "right",
            afterFit: (s: any) => { s.width = pad; },
            grid: { display: false },
            border: { display: false },
            ticks: { display: false },
          },
        },
      } as any,
    });
    return () => chart.destroy();
  }, []);
  return (
    <canvas
      ref={ref}
      width={width}
      height={858}
      style={{ position: "absolute", left, top: 48, width, height: 858 }}
    />
  );
}

function ColorBar({ left, padL, barW, width }: any) {
  const ref = useRef<HTMLCanvasElement>(null);
  useEffect(() => {
    const chart = new Chart(ref.current as any, {
      type: "bar",
      data: {
        datasets: [
          {
            data: colorLevels.map((v) => ({ x: [0, 1], y: v })) as any,
            backgroundColor: colorLevels.map(jet),
            borderWidth: 0,
            barThickness: 13,
          },
        ],
      },
      plugins: [frame],
      options: {
        indexAxis: "y",
        responsive: false,
        animation: false,
        events: [],
        layout: { autoPadding: false, padding: { left: padL, right: 0, top: 98, bottom: 138 } },
        plugins: { legend: { display: false }, tooltip: { enabled: false } },
        scales: {
          x: { type: "linear", min: 0, max: 1, display: false },
          y: {
            type: "linear",
            position: "right",
            offset: false,
            min: -100,
            max: 0,
            afterFit: (s: any) => { s.width = width - padL - barW; },
            afterBuildTicks: (s: any) => { s.ticks = barTickValues.map((value) => ({ value })); },
            grid: { offset: false, color: "#111", lineWidth: 1.5, drawTicks: false, z: 1 },
            border: { display: false, dash: [5, barW - 10, 5] },
            ticks: {
              padding: 11,
              labelOffset: 2,
              color: "#000",
              font: { family: FONT, size: 46 },
              callback: (v: any) => String(v),
            },
          },
        },
      } as any,
    });
    return () => chart.destroy();
  }, []);
  return (
    <canvas
      ref={ref}
      width={width}
      height={858}
      style={{ position: "absolute", left, top: 48, width, height: 858 }}
    />
  );
}

export default function App() {
  return (
    <div
      style={{
        position: "fixed",
        left: 0,
        top: 0,
        width: 2432,
        height: 906,
        overflow: "hidden",
        background:
          "radial-gradient(420px 300px at 1270px 80px, #e2ebf1 0%, rgba(226,235,241,0) 100%), radial-gradient(700px 60px at 2100px 20px, #c8d5de 0%, rgba(200,213,222,0) 100%), linear-gradient(180deg, #d2dee6 0%, #d6e2ea 50%, #d6e3eb 100%)",
      }}
    >
      <div style={{ position: "absolute", left: 0, top: 0, width: 17, height: 906, background: "linear-gradient(180deg, #6a95b8 0%, #7ca4c2 45%, #8eb6d0 100%)" }} />
      <div style={{ position: "absolute", left: 35, top: 48, width: 1157, height: 858, background: "#fff" }} />
      <div style={{ position: "absolute", left: 1346, top: 48, width: 1086, height: 858, background: "#fff" }} />
      <HeatPanel left={35} pad={182.5} plotW={614} rows={beforeRows} peakRows={beforePeakRows} showNulls={true} />
      <ColorBar left={880} padL={21} barW={95} width={312} />
      <HeatPanel left={1346} pad={197.5} plotW={608} rows={afterRows} peakRows={afterPeakRows} showNulls={false} />
      <ColorBar left={2204} padL={20} barW={94} width={228} />
      <svg style={{ position: "absolute", left: 1160, top: 400, width: 210, height: 130 }} viewBox="1160 400 210 130">
        <polygon points="1171,439 1304,439 1304,413 1354,463 1304,513 1304,487 1171,487" fill="#fff" stroke="#222" strokeWidth="1.5" />
      </svg>
    </div>
  );
}
